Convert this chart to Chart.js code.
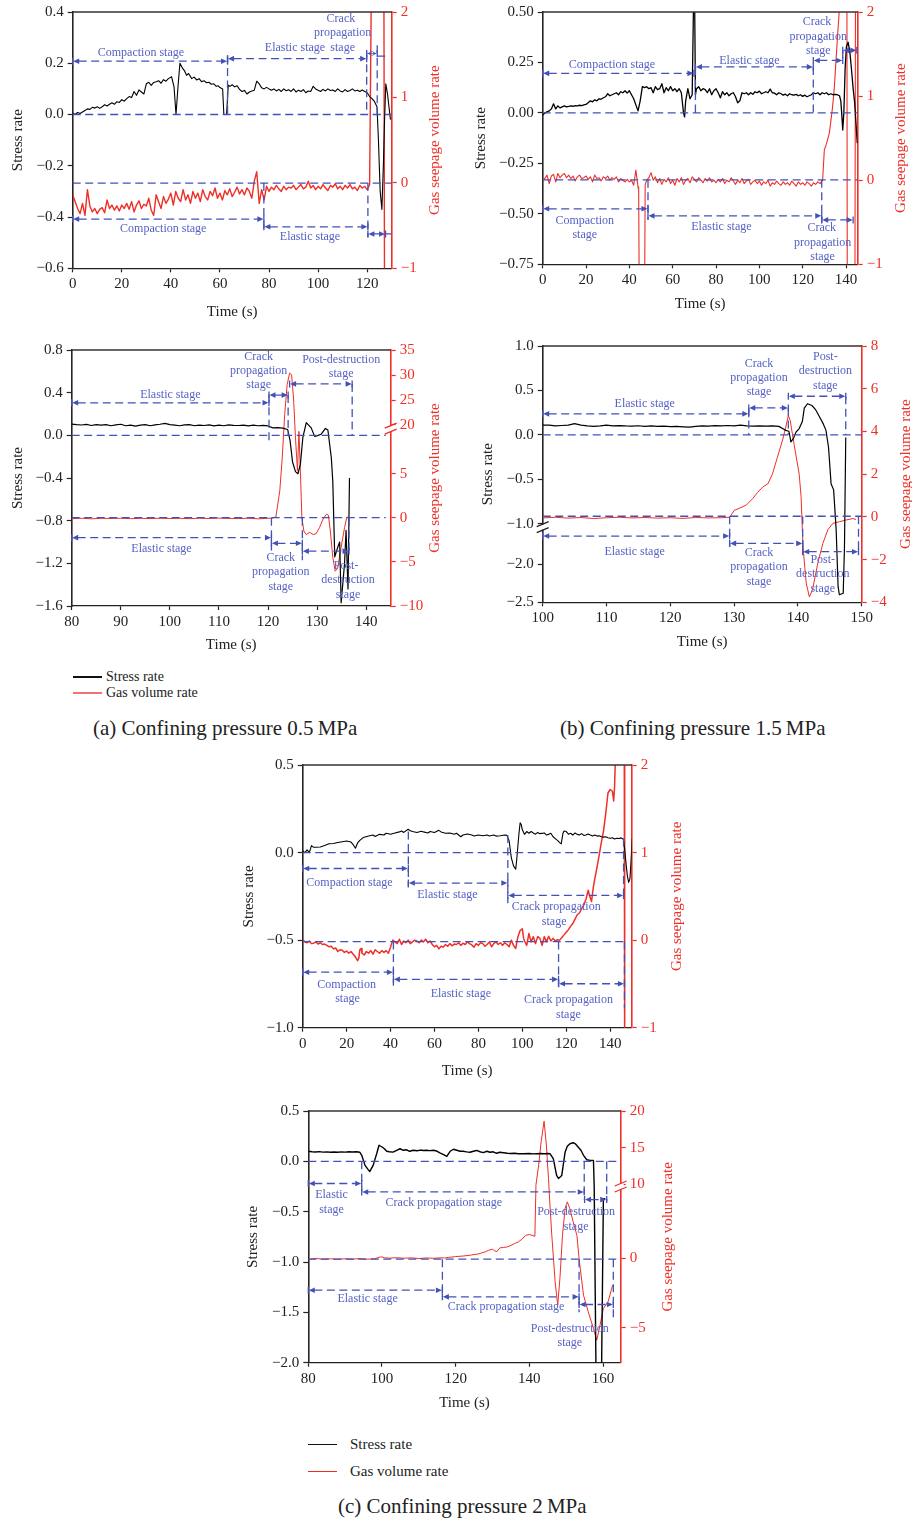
<!DOCTYPE html>
<html>
  <head>
    <meta charset="utf-8" />
    <title>Stress rate and gas seepage volume rate</title>
    <style>
      body {
        margin: 0;
        width: 912px;
        height: 1518px;
        background: #fff;
        position: relative;
        overflow: hidden;
        font-family: "Liberation Serif", "DejaVu Serif", serif;
        color: #222;
      }
      canvas { position: absolute; }
      .key { position: absolute; white-space: nowrap; }
      .key .row { display: flex; align-items: center; }
      .key .swatch { display: inline-block; width: 29px; }
      .caption { position: absolute; font-size: 21px; line-height: 24px; white-space: nowrap; }
    </style>
    <script src="https://cdn.jsdelivr.net/npm/chart.js"></script>
  </head>
  <body>
    <canvas id="a1"></canvas>
    <canvas id="b1"></canvas>
    <canvas id="a2"></canvas>
    <canvas id="b2"></canvas>
    <canvas id="c1"></canvas>
    <canvas id="c2"></canvas>

    <div class="key" style="left:73px; top:669px; font-size:14px; line-height:16px;">
      <div class="row"><span class="swatch" style="height:1.5px; background:#111; margin-right:4px;"></span>Stress rate</div>
      <div class="row"><span class="swatch" style="height:2px; background:#f07272; margin-right:4px;"></span>Gas volume rate</div>
    </div>
    <div class="caption" style="left:93px; top:716px;">(a) Confining pressure 0.5&#8201;MPa</div>
    <div class="caption" style="left:560px; top:716px;">(b) Confining pressure 1.5&#8201;MPa</div>

    <div class="key" style="left:308px; top:1431px; font-size:15px; line-height:27px;">
      <div class="row"><span class="swatch" style="height:1.6px; background:#111; margin-right:13px;"></span>Stress rate</div>
      <div class="row"><span class="swatch" style="height:1.6px; background:#ec2b25; margin-right:13px;"></span>Gas volume rate</div>
    </div>
    <div class="caption" style="left:338px; top:1494px;">(c) Confining pressure 2&#8201;MPa</div>

    <script>
      // ---- (a) 0.5 MPa, upper plot ----
      const a1Stress = [
        [0,0.005],[1,0.0],[2,0.008],[3,0.004],[4,0.01],[5,0.016],[6,0.022],[7,0.02],[8,0.028],[9,0.025],
        [10,0.03],[11,0.024],[12,0.03],[13,0.038],[14,0.033],[15,0.04],[16,0.046],[17,0.04],[18,0.05],[19,0.047],
        [20,0.058],[21,0.052],[22,0.062],[23,0.07],[24,0.066],[25,0.09],[26,0.075],[27,0.096],[28,0.088],[29,0.08],
        [30,0.12],[31,0.126],[32,0.114],[33,0.125],[34,0.128],[35,0.132],[36,0.122],[37,0.136],[38,0.13],[39,0.14],
        [40.3,0.147],[41.3,0.108],[42.1,0.0],[43,0.12],[43.7,0.2],[44.8,0.18],[45.6,0.17],[46.4,0.153],[47.2,0.16],[48.5,0.14],
        [49.5,0.146],[50.5,0.135],[51.5,0.14],[52.5,0.128],[53.5,0.132],[54.5,0.124],[55.5,0.126],[56.5,0.118],[57.5,0.12],[58.5,0.11],
        [59.3,0.112],[60,0.105],[61.1,0.1],[61.6,0.0],[62.7,0.0],[63.4,0.114],[64.1,0.11],[65,0.116],[66,0.108],[67,0.112],
        [68,0.098],[69,0.09],[70,0.094],[71,0.08],[72,0.088],[73,0.092],[74,0.095],[75,0.13],[76,0.12],[77,0.104],
        [78,0.1],[79,0.106],[80,0.1],[81,0.095],[82,0.1],[83,0.092],[84,0.098],[85,0.09],[86,0.1],[87,0.093],
        [88,0.097],[89,0.09],[90,0.1],[91,0.088],[92,0.095],[93,0.09],[94,0.097],[95,0.085],[96,0.092],[97,0.09],
        [98,0.11],[99,0.1],[100,0.095],[101,0.09],[102,0.098],[103,0.092],[104,0.1],[105,0.094],[106,0.096],[107,0.09],
        [108,0.1],[109,0.092],[110,0.088],[111,0.097],[112,0.09],[113,0.094],[114,0.1],[115,0.092],[116,0.095],[117,0.09],
        [118,0.096],[119,0.09],[120,0.085],[121,0.07],[122,0.062],[123,0.05],[124,0.03],[124.6,-0.1],[125.3,-0.3],[126,-0.37],
        [126.6,-0.2],[127,-0.05],[127.6,0.12],[128.3,0.08],[129,0.02],[129.5,-0.02]
      ];
      const a1Gas = [
        [0,-0.14],[1,-0.22],[2,-0.3],[3,-0.36],[4,-0.24],[5,-0.38],[6,-0.08],[7,-0.27],[8,-0.34],[9,-0.3],
        [10,-0.36],[11,-0.31],[12,-0.29],[13,-0.35],[14,-0.2],[15,-0.3],[16,-0.26],[17,-0.32],[18,-0.27],[19,-0.33],
        [20,-0.26],[21,-0.3],[22,-0.24],[23,-0.31],[24,-0.22],[25,-0.34],[26,-0.26],[27,-0.21],[28,-0.3],[29,-0.25],
        [30,-0.27],[31,-0.18],[32,-0.32],[33,-0.38],[34,-0.14],[35,-0.22],[36,-0.3],[37,-0.16],[38,-0.24],[39,-0.19],
        [40,-0.12],[41,-0.26],[42,-0.1],[43,-0.18],[44,-0.22],[45,-0.08],[46,-0.2],[47,-0.14],[48,-0.24],[49,-0.1],
        [50,-0.18],[51,-0.12],[52,-0.22],[53,-0.08],[54,-0.16],[55,-0.2],[56,-0.1],[57,-0.15],[58,-0.06],[59,-0.18],
        [60,-0.12],[61,-0.2],[62,-0.09],[63,-0.14],[64,-0.07],[65,-0.16],[66,-0.11],[67,-0.05],[68,-0.13],[69,-0.08],
        [70,-0.14],[71,-0.06],[72,-0.1],[73,-0.18],[74,0.02],[75,0.13],[76,-0.24],[77,-0.08],[78,-0.2],[79,-0.04],
        [80,-0.1],[81,-0.05],[82,-0.08],[83,-0.03],[84,-0.07],[85,-0.1],[86,-0.04],[87,-0.08],[88,-0.05],[89,-0.06],
        [90,-0.03],[91,-0.08],[92,-0.05],[93,-0.02],[94,-0.07],[95,-0.05],[96,0.02],[97,-0.06],[98,-0.03],[99,-0.08],
        [100,-0.04],[101,-0.07],[102,-0.02],[103,-0.06],[104,-0.09],[105,-0.03],[106,-0.05],[107,-0.01],[108,-0.07],[109,-0.04],
        [110,-0.08],[111,-0.03],[112,-0.06],[113,-0.02],[114,-0.07],[115,-0.05],[116,-0.09],[117,-0.03],[118,-0.06],[119,-0.04],
        [120,-0.08],[121,-0.02],[121.8,2.6],[126.8,2.6],[127.1,-1.6],[130,-1.6]
      ];
      const a1XTicks = [0, 20, 40, 60, 80, 100, 120];
      const a1YTicks = [-0.6, -0.4, -0.2, 0, 0.2, 0.4];
      const a1YLabels = ['\u22120.6', '\u22120.4', '\u22120.2', '0.0', '0.2', '0.4'];
      const a1Guides = [[0, 0, 130], [-0.2675, 0, 130], [0.228, 124.1, 127.5], [-0.466, 127.5, 130]];
      const a1Bounds = [[63.1, 0.23, 0], [119.8, 0.245, 0], [124.1, 0.27, 0], [77.9, -0.2675, -0.45], [120.3, -0.2675, -0.479]];
      const a1Arrows = [[0, 63.1, 0.208], [63.1, 119.8, 0.218], [119.8, 124.1, 0.238], [0, 77.9, -0.408], [77.9, 120.3, -0.438], [120.3, 127.5, -0.466]];
      const a1Labels = [[27.8, 0.242, 'Compaction stage'], [90.6, 0.261, 'Elastic stage'], [109.3, 0.374, 'Crack'], [110, 0.318, 'propagation'], [110, 0.262, 'stage'],
                        [36.9, -0.445, 'Compaction stage'], [96.7, -0.479, 'Elastic stage']];

      // ---- (b) 1.5 MPa, upper plot ----
      const b1Stress = [
        [0,-0.01],[1,0.0],[2,0.005],[3,0.01],[4,0.02],[5,0.045],[6,0.02],[7,0.035],[8,0.025],[9,0.03],
        [10,0.035],[11,0.03],[12,0.032],[13,0.035],[14,0.033],[15,0.036],[16,0.035],[17,0.038],[18,0.036],[19,0.04],
        [20,0.042],[21,0.05],[22,0.06],[23,0.055],[24,0.065],[25,0.06],[26,0.07],[27,0.068],[28,0.075],[29,0.08],
        [30,0.095],[31,0.085],[32,0.09],[33,0.095],[34,0.1],[35,0.09],[36,0.105],[37,0.1],[38,0.11],[39,0.098],
        [40,0.11],[41,0.09],[42,0.07],[43,0.04],[44,0.01],[45,0.06],[46,0.13],[47,0.125],[48,0.13],[49,0.12],
        [50,0.125],[51,0.1],[52,0.13],[53,0.115],[54,0.12],[55,0.145],[56,0.1],[57,0.125],[58,0.11],[59,0.13],
        [60,0.11],[61,0.12],[62,0.105],[63,0.12],[64,0.1],[65,0.0],[65.5,-0.02],[66,0.06],[67,0.12],[68,0.07],
        [69,0.09],[69.7,0.6],[70.1,0.6],[70.5,0.09],[71,0.12],[72,0.13],[73,0.11],[74,0.12],[75,0.115],[76,0.1],
        [77,0.12],[78,0.09],[79,0.11],[80,0.12],[81,0.1],[82,0.075],[83,0.105],[84,0.09],[85,0.1],[86,0.085],
        [87,0.095],[88,0.1],[89,0.08],[90,0.05],[91,0.06],[92,0.1],[93,0.095],[94,0.1],[95,0.09],[96,0.1],
        [97,0.092],[98,0.105],[99,0.1],[100,0.108],[101,0.095],[102,0.1],[103,0.105],[104,0.1],[105,0.118],[106,0.1],
        [107,0.098],[108,0.09],[109,0.1],[110,0.095],[111,0.088],[112,0.093],[113,0.085],[114,0.095],[115,0.09],[116,0.088],
        [117,0.092],[118,0.085],[119,0.09],[120,0.082],[121,0.088],[122,0.08],[123,0.085],[124,0.09],[125,0.1],[126,0.095],
        [127,0.1],[128,0.09],[129,0.1],[130,0.095],[131,0.1],[132,0.09],[133,0.095],[134,0.09],[135,0.092],[136,0.09],
        [137,0.085],[137.6,0.06],[138,0.0],[138.5,-0.085],[139,0.0],[139.6,0.22],[140.2,0.33],[141,0.35],[141.8,0.3],[142.5,0.22],
        [143.3,0.12],[144,0.05],[144.6,-0.05],[145.2,-0.15]
      ];
      const b1Gas = [
        [0,0.0],[1,0.02],[2,0.06],[3,-0.04],[4,0.05],[5,0.07],[6,-0.02],[7,0.08],[8,0.03],[9,0.06],
        [10,0.08],[11,0.03],[12,0.06],[13,0.02],[14,0.05],[15,-0.01],[16,0.04],[17,0.06],[18,0.02],[19,0.03],
        [20,0.05],[21,0.01],[22,0.04],[23,-0.02],[24,0.06],[25,0.02],[26,0.03],[27,-0.01],[28,0.04],[29,0.02],
        [30,0.05],[31,0.0],[32,0.03],[33,0.01],[34,0.04],[35,-0.02],[36,0.02],[37,0.0],[38,-0.02],[39,0.01],
        [40,-0.02],[41,0.0],[42,-0.06],[43,0.12],[44,-0.08],[44.3,-0.12],[44.6,-1.6],[47.0,-1.6],[47.3,-0.05],[48,0.0],
        [49,0.03],[50,0.09],[51,0.0],[52,0.04],[53,-0.03],[54,0.02],[55,-0.05],[56,0.01],[57,-0.02],[58,0.03],
        [59,-0.04],[60,0.0],[61,-0.06],[62,0.02],[63,-0.02],[64,0.03],[65,-0.05],[66,0.0],[67,0.02],[68,-0.03],
        [69,0.04],[70,0.01],[71,-0.02],[72,0.03],[73,0.0],[74,-0.03],[75,0.02],[76,-0.01],[77,0.03],[78,-0.02],
        [79,0.0],[80,-0.03],[81,0.01],[82,-0.02],[83,0.02],[84,-0.04],[85,0.0],[86,-0.02],[87,0.03],[88,-0.01],
        [89,-0.05],[90,0.0],[91,-0.03],[92,0.02],[93,-0.04],[94,-0.01],[95,0.01],[96,-0.05],[97,-0.02],[98,0.0],
        [99,-0.04],[100,-0.01],[101,-0.06],[102,-0.02],[103,-0.04],[104,0.0],[105,-0.07],[106,-0.03],[107,-0.05],[108,-0.01],
        [109,-0.04],[110,-0.06],[111,-0.02],[112,-0.05],[113,-0.03],[114,-0.06],[115,-0.01],[116,-0.04],[117,-0.07],[118,-0.02],
        [119,-0.05],[120,-0.03],[121,-0.06],[122,-0.02],[123,-0.04],[124,-0.07],[125,-0.03],[126,-0.05],[127,-0.02],[128,-0.04],
        [129.2,0.0],[130,0.36],[130.8,0.42],[131.5,0.48],[132.3,0.56],[133,0.7],[133.8,0.87],[134.6,1.1],[135.4,1.43],[136.2,1.75],
        [136.9,2.02],[137.3,2.6],[140.4,2.6],[140.6,-1.6],[144.1,-1.6],[144.4,2.6]
      ];
      const b1XTicks = [0, 20, 40, 60, 80, 100, 120, 140];
      const b1YTicks = [-0.75, -0.5, -0.25, 0, 0.25, 0.5];
      const b1YLabels = ['\u22120.75', '\u22120.50', '\u22120.25', '0.00', '0.25', '0.50'];
      const b1Guides = [[0, 0, 145.4], [-0.3317, 0, 145.4]];
      const b1Bounds = [[70.5, 0.228, 0], [124.9, 0.228, 0], [138.5, 0.31, 0.26], [48.6, -0.3317, -0.53], [128.8, -0.3317, -0.545]];
      const b1Arrows = [[0, 69.8, 0.196], [70.5, 124.9, 0.228], [124.9, 138.5, 0.26], [138.5, 145, 0.31],
                        [0, 48.6, -0.475], [48.6, 128.8, -0.51], [128.8, 143.3, -0.53]];
      const b1Labels = [[32, 0.236, 'Compaction stage'], [95.4, 0.26, 'Elastic stage'], [126.6, 0.449, 'Crack'], [127.2, 0.378, 'propagation'], [127.2, 0.309, 'stage'],
                        [19.4, -0.533, 'Compaction'], [19.4, -0.606, 'stage'], [82.5, -0.566, 'Elastic stage'],
                        [128.8, -0.571, 'Crack'], [129.2, -0.642, 'propagation'], [129.2, -0.711, 'stage']];

      // ---- (a) 0.5 MPa, lower plot ----
      const a2Stress = [
        [80,0.105],[81,0.1],[82,0.097],[83,0.103],[84,0.092],[85,0.1],[86,0.095],[87,0.1],[88,0.09],[89,0.098],
        [90,0.104],[91,0.09],[92,0.096],[93,0.087],[94,0.095],[95,0.1],[96,0.09],[97,0.098],[98,0.104],[99,0.112],
        [100,0.1],[101,0.095],[102,0.09],[103,0.098],[104,0.1],[105,0.09],[106,0.096],[107,0.092],[108,0.098],[109,0.088],
        [110,0.095],[111,0.09],[112,0.098],[113,0.094],[114,0.092],[115,0.096],[116,0.088],[117,0.095],[118,0.09],[119,0.094],
        [120,0.088],[121,0.07],[122,0.072],[123,0.068],[124,0.055],[124.5,-0.05],[125,-0.25],[125.6,-0.34],[126.1,-0.36],[126.6,-0.27],
        [127.1,-0.02],[127.8,0.12],[128.8,0.07],[129.5,-0.01],[130.2,0.0],[130.8,0.01],[131.7,0.065],[132.2,0.05],[132.9,-0.21],[133.2,-0.43],
        [133.6,-1.14],[134.2,-1.05],[134.6,-1.0],[134.9,-1.57],[135.6,-1.2],[135.9,-0.89],[136.3,-1.44],[136.6,-0.4]
      ];
      const a2Gas = [
        [80,-0.1],[82,-0.05],[84,-0.12],[86,-0.06],[88,-0.08],[90,-0.05],[92,-0.1],[94,-0.06],[96,-0.09],[98,-0.05],
        [100,-0.08],[102,-0.06],[104,-0.1],[106,-0.05],[108,-0.08],[110,-0.04],[112,-0.07],[114,-0.09],[116,-0.05],[118,-0.12],
        [120,-0.06],[121,-0.02],[121.6,0.1],[122.4,3.05],[122.9,9.9],[123.4,22.1],[123.9,28.1],[124.4,30.4],[124.8,30.1],[125.2,25.4],
        [125.6,16.0],[126,5.8],[126.3,18.0],[126.6,5.8],[126.9,0.0],[127.3,-1.5],[127.8,-1.9],[128.5,-1.65],[129.2,-1.9],[129.8,-1.8],
        [130.5,-1.1],[131.2,-0.15],[131.9,0.4],[132.3,0.3],[132.7,-1.5],[133.2,-4.5],[133.7,-6.05],[134.2,-5.7],[134.9,-3.35],[135.6,-1.1],
        [136.1,0.15]
      ];
      const a2XTicks = [80, 90, 100, 110, 120, 130, 140];
      const a2YTicks = [-1.6, -1.2, -0.8, -0.4, 0, 0.4, 0.8];
      const a2YLabels = ['\u22121.6', '\u22121.2', '\u22120.8', '\u22120.4', '0.0', '0.4', '0.8'];
      const a2GasTicks = [-10, -5, 0, 5, 10.53, 13.35, 16.18, 19.02];
      const a2GasLabels = ['\u221210', '\u22125', '0', '5', '20', '25', '30', '35'];
      const a2Guides = [[0, 80, 144], [-0.772, 80, 144]];
      const a2Bounds = [[120.2, 0.38, -0.05], [124.1, 0.377, 0], [137.15, 0.482, 0], [120.7, -0.772, -1.08], [127, -0.772, -1.17], [136.5, -0.772, -1.096]];
      const a2Arrows = [[80, 120.2, 0.305], [120.2, 124.1, 0.377], [124.4, 137.15, 0.482], [80, 120.7, -0.959], [120.7, 127, -1.012], [127, 136.5, -1.086]];
      const a2Labels = [[100.1, 0.383, 'Elastic stage'], [118.1, 0.738, 'Crack'], [118.1, 0.604, 'propagation'], [118.1, 0.47, 'stage'],
                        [134.9, 0.71, 'Post-destruction'], [134.9, 0.576, 'stage'], [98.3, -1.065, 'Elastic stage'],
                        [122.6, -1.149, 'Crack'], [122.6, -1.283, 'propagation'], [122.6, -1.423, 'stage'],
                        [135.9, -1.22, 'Post-'], [136.3, -1.355, 'destruction'], [136.3, -1.5, 'stage']];

      // ---- (b) 1.5 MPa, lower plot ----
      const b2Stress = [
        [100,0.11],[101,0.108],[102,0.1],[103,0.105],[104,0.11],[105,0.125],[106,0.11],[107,0.1],[108,0.095],[109,0.1],
        [110,0.108],[111,0.1],[112,0.104],[113,0.1],[114,0.098],[115,0.102],[116,0.096],[117,0.1],[118,0.094],[119,0.098],
        [120,0.092],[121,0.095],[122,0.09],[123,0.086],[124,0.095],[125,0.1],[126,0.098],[127,0.104],[128,0.1],[129,0.105],
        [130,0.1],[131,0.108],[132,0.1],[133,0.098],[134,0.1],[135,0.097],[136,0.1],[137,0.095],[137.6,0.07],[138.1,0.05],
        [138.6,0.04],[138.9,-0.08],[139.3,-0.04],[139.7,0.03],[140.2,0.07],[140.7,0.15],[141,0.3],[141.5,0.35],[142.2,0.33],[142.8,0.28],
        [143.4,0.2],[144,0.12],[144.4,0.05],[144.8,-0.14],[145.2,-0.55],[145.6,-0.62],[146,-1.16],[146.3,-2.29],[146.5,-2.4],[147.1,-2.38],
        [147.3,-1.57],[147.5,-0.03]
      ];
      const b2Gas = [
        [100,-0.05],[102,-0.02],[104,-0.06],[106,-0.03],[108,-0.08],[110,-0.04],[112,-0.02],[114,-0.05],[116,-0.03],[118,-0.06],
        [120,-0.04],[122,-0.07],[124,-0.03],[126,-0.05],[128,-0.04],[129.3,-0.02],[130,0.3],[130.8,0.4],[131.9,0.55],[132.9,0.85],
        [133.7,1.15],[134.5,1.4],[135.3,1.55],[136,2.0],[136.8,2.8],[137.6,3.6],[138.1,4.2],[138.5,4.75],[138.8,4.5],[139.4,3.4],
        [140.2,2.0],[140.5,0.95],[140.8,-1.4],[141.3,-3.1],[141.8,-3.75],[142.3,-3.4],[143.1,-2.2],[143.9,-1.25],[144.7,-0.6],[145.5,-0.3],
        [146.5,-0.23],[147.5,-0.15],[148.6,-0.08],[149.1,-0.12]
      ];
      const b2XTicks = [100, 110, 120, 130, 140, 150];
      const b2YTicks = [-1.886, -1.46, -1, -0.5, 0, 0.5, 1];
      const b2YLabels = ['\u22122.5', '\u22122.0', '\u22121.0', '\u22120.5', '0.0', '0.5', '1.0'];
      const b2GasTicks = [-4, -2, 0, 2, 4, 6, 8];
      const b2GasLabels = ['\u22124', '\u22122', '0', '2', '4', '6', '8'];
      const b2Guides = [[0, 100, 150], [-0.917, 100, 150]];
      const b2Bounds = [[132.3, 0.303, 0], [138.5, 0.303, 0], [147.5, 0.434, 0], [129.3, -0.917, -1.26], [140.75, -0.917, -1.35], [149.5, -0.917, -1.316]];
      const b2Arrows = [[100, 132.3, 0.236], [132.3, 138.5, 0.303], [138.5, 147.5, 0.434], [100, 129.3, -1.14], [129.3, 140.75, -1.223], [140.75, 149.5, -1.316]];
      const b2Labels = [[116, 0.348, 'Elastic stage'], [133.9, 0.797, 'Crack'], [133.9, 0.639, 'propagation'], [133.9, 0.479, 'stage'],
                        [144.3, 0.879, 'Post-'], [144.3, 0.718, 'destruction'], [144.3, 0.553, 'stage'],
                        [114.4, -1.316, 'Elastic stage'], [133.9, -1.328, 'Crack'], [133.9, -1.492, 'propagation'], [133.9, -1.66, 'stage'],
                        [143.9, -1.41, 'Post-'], [143.9, -1.57, 'destruction'], [143.9, -1.74, 'stage']];

      // ---- (c) 2 MPa, upper plot ----
      const c1Stress = [
        [0,0.01],[1,0.0],[2,0.015],[3,0.0],[4,0.04],[5,0.03],[6,0.03],[8,0.032],[10,0.04],[12,0.05],
        [14,0.052],[16,0.057],[18,0.062],[20,0.066],[22,0.06],[23,0.045],[24,0.025],[25,0.055],[26,0.07],[27,0.08],
        [28,0.088],[30,0.095],[32,0.1],[33,0.092],[35,0.104],[37,0.1],[38,0.11],[40,0.105],[42,0.112],[44,0.118],
        [45,0.123],[46,0.115],[48,0.133],[49,0.125],[50,0.12],[52,0.115],[54,0.122],[55,0.118],[57,0.112],[58,0.12],
        [60,0.115],[62,0.127],[63,0.118],[65,0.11],[67,0.112],[69,0.105],[70,0.11],[72,0.09],[73,0.1],[75,0.106],
        [77,0.1],[78,0.095],[80,0.1],[82,0.096],[84,0.1],[85,0.095],[87,0.1],[88,0.094],[90,0.096],[92,0.1],
        [93,0.098],[94,0.066],[95,-0.03],[96,-0.076],[97,-0.095],[97.6,-0.02],[98.4,0.1],[99,0.17],[99.5,0.16],[100,0.13],
        [101,0.104],[102,0.12],[103,0.11],[104,0.12],[105,0.112],[106,0.105],[107,0.115],[108,0.108],[110,0.112],[111,0.1],
        [112,0.104],[113,0.11],[114,0.09],[115,0.08],[116,0.07],[117,0.057],[117.7,0.05],[118.5,0.11],[119,0.123],[120,0.12],
        [121,0.105],[122,0.11],[123,0.1],[124,0.112],[125,0.104],[126,0.1],[127,0.108],[128,0.098],[129,0.1],[130,0.106],
        [131,0.1],[132,0.095],[133,0.1],[134,0.094],[135,0.096],[136,0.09],[137,0.088],[138,0.09],[139,0.085],[140,0.082],
        [141,0.085],[142,0.078],[143,0.082],[144,0.08],[145,0.084],[146,0.076],[146.6,0.02],[147.2,-0.06],[147.8,-0.13],[148.4,-0.17],
        [149,-0.15],[149.5,-0.05],[150,0.08]
      ];
      const c1Gas = [
        [0,0.0],[1,-0.02],[2,-0.03],[3,-0.01],[4,-0.04],[5,-0.035],[6,-0.02],[7,-0.045],[8,-0.03],[9,-0.05],
        [10,-0.045],[11,-0.06],[12,-0.076],[13,-0.07],[14,-0.1],[15,-0.09],[16,-0.13],[17,-0.11],[18,-0.115],[19,-0.14],
        [20,-0.125],[21,-0.15],[22,-0.13],[23,-0.16],[24,-0.19],[25,-0.235],[25.6,-0.2],[26,-0.11],[26.6,-0.095],[27,-0.15],
        [28,-0.17],[29,-0.13],[30,-0.15],[31,-0.12],[32,-0.16],[33,-0.11],[34,-0.13],[35,-0.15],[36,-0.12],[37,-0.14],
        [38,-0.12],[39,-0.15],[40,-0.08],[41,0.0],[42,-0.02],[43,-0.04],[44,0.01],[45,-0.05],[46,-0.01],[47,-0.03],
        [48,0.0],[49,-0.04],[50,-0.02],[51,0.0],[52,-0.01],[53,-0.03],[54,0.0],[55,-0.02],[56,0.01],[57,-0.03],
        [58,-0.01],[59,-0.05],[60,-0.076],[61,-0.06],[62,-0.1],[63,-0.07],[64,-0.08],[65,-0.05],[66,-0.07],[67,-0.04],
        [68,-0.065],[69,-0.045],[70,-0.05],[71,-0.03],[72,-0.06],[73,-0.035],[74,-0.05],[75,-0.02],[76,-0.04],[77,-0.055],
        [78,-0.08],[79,-0.04],[80,-0.06],[81,-0.03],[82,-0.04],[83,-0.07],[84,-0.05],[85,-0.02],[86,-0.075],[87,-0.04],
        [88,-0.02],[89,-0.05],[90,-0.03],[91,-0.06],[92,-0.03],[93,-0.05],[94,-0.076],[95,0.0],[96,-0.06],[97,-0.095],
        [98,0.04],[99,0.11],[100,0.13],[100.6,0.02],[101,-0.01],[102,-0.06],[103,0.076],[104,-0.02],[105,0.04],[106,-0.04],
        [107,0.04],[108,0.02],[109,-0.06],[110,0.04],[111,-0.02],[112,0.045],[113,-0.01],[114,0.02],[115,-0.01],[116,0.005],
        [117,0.0],[118,0.03],[119,0.06],[120,0.09],[121,0.12],[122,0.16],[123,0.19],[124,0.24],[125,0.29],[126,0.31],
        [127,0.36],[128,0.4],[129,0.47],[130,0.57],[130.7,0.5],[131.5,0.44],[132.3,0.6],[133,0.7],[134,0.83],[135,0.97],
        [136,1.12],[137,1.25],[138,1.45],[139,1.68],[140,1.72],[141,1.7],[141.6,1.59],[142,1.75],[142.4,2.1],[142.8,2.6],
        [146.4,2.6],[146.6,-1.5],[150,-1.5]
      ];
      const c1XTicks = [0, 20, 40, 60, 80, 100, 120, 140];
      const c1YTicks = [-1, -0.5, 0, 0.5];
      const c1YLabels = ['\u22121.0', '\u22120.5', '0.0', '0.5'];
      const c1Guides = [[0, 0, 147.6], [-0.508, 0, 147.6]];
      const c1Bounds = [[48.1, 0.12, -0.2], [93.4, 0.1, -0.29], [146.1, 0.08, -0.26], [41.3, -0.508, -0.76], [116.5, -0.508, -0.79], [146.5, -0.508, -0.89]];
      const c1Arrows = [[0, 48.1, -0.091], [48.1, 93.4, -0.174], [93.4, 146.1, -0.245], [0, 41.3, -0.683], [41.3, 116.5, -0.724], [116.5, 146.5, -0.749]];
      const c1Labels = [[21.3, -0.174, 'Compaction stage'], [65.9, -0.241, 'Elastic stage'], [115.4, -0.309, 'Crack propagation'], [114.5, -0.394, 'stage'],
                        [20.0, -0.755, 'Compaction'], [20.4, -0.834, 'stage'], [72, -0.806, 'Elastic stage'],
                        [121, -0.84, 'Crack propagation'], [121, -0.925, 'stage']];

      // ---- (c) 2 MPa, lower plot ----
      const c2Stress = [
        [80,0.1],[81,0.095],[82,0.093],[83,0.096],[84,0.092],[85,0.094],[86,0.09],[87,0.093],[88,0.091],[89,0.094],
        [90,0.092],[91,0.095],[92,0.093],[93,0.095],[94,0.09],[94.5,0.06],[95.4,-0.04],[96.2,-0.08],[96.7,-0.1],[97.6,-0.04],
        [98.6,0.08],[99.2,0.16],[99.9,0.145],[100.5,0.13],[101.3,0.1],[102,0.095],[103,0.092],[104,0.11],[104.9,0.125],[105.8,0.11],
        [106.7,0.115],[107.5,0.1],[108.5,0.11],[109.5,0.105],[110.5,0.112],[111.2,0.108],[112,0.11],[113,0.106],[114,0.11],[115,0.1],
        [115.7,0.085],[116.6,0.07],[117.6,0.05],[118.5,0.1],[119.4,0.12],[120.3,0.11],[121.2,0.1],[122,0.1],[123,0.094],[123.9,0.09],
        [124.8,0.1],[125.7,0.108],[126.6,0.095],[127.5,0.086],[128.5,0.1],[129.3,0.09],[130.2,0.095],[131.1,0.08],[132,0.09],[133,0.085],
        [134,0.08],[134.8,0.078],[136,0.08],[137,0.076],[138.4,0.076],[140,0.078],[141,0.074],[142,0.076],[143,0.078],[144,0.075],
        [145,0.078],[145.6,0.076],[146.5,0.026],[147.4,-0.14],[147.9,-0.17],[148.8,-0.14],[149.7,0.09],[150.3,0.15],[151,0.175],[151.9,0.185],
        [152.6,0.17],[153.3,0.14],[154,0.11],[154.7,0.06],[155.6,0.016],[156.5,0.01],[157.4,0.01],[157.6,-0.24],[158.1,-2.1],[159.6,-2.1],
        [160.1,-0.37],[160.6,-0.37]
      ];
      const c2Gas = [
        [80,-0.05],[82,0.0],[84,-0.04],[86,-0.02],[88,-0.05],[90,-0.02],[92,-0.04],[94,-0.01],[96,-0.05],[98,-0.02],
        [99.3,0.1],[100,0.12],[100.7,0.05],[102,0.03],[104,0.06],[106,0.02],[108,0.05],[110,0.0],[112,0.04],[114,0.02],
        [116,0.05],[117,0.04],[118,0.08],[120,0.14],[122,0.18],[124,0.24],[125,0.29],[126,0.32],[127,0.4],[128,0.48],
        [129,0.6],[130,0.67],[130.6,0.55],[131.2,0.5],[132,0.77],[133,0.8],[134,0.84],[135,0.95],[136,1.08],[137,1.2],
        [138,1.39],[139,1.68],[140,1.73],[141,1.66],[141.5,1.6],[141.8,9.5],[142.5,12.5],[143.2,15.8],[144,18.6],[144.6,15.5],
        [145.2,10.8],[145.6,3.85],[146.1,1.68],[147,-1.68],[147.7,-3.37],[148.3,-1.44],[149,1.68],[149.7,3.6],[150.3,4.09],[151,3.6],
        [151.9,2.64],[152.9,1.68],[153.6,-0.24],[154.7,-2.64],[156,-3.85],[157.4,-5.05],[158.3,-5.9],[159.2,-4.8],[160.1,-3.6],[161.4,-3.1],
        [162.6,-1.92]
      ];
      const c2XTicks = [80, 100, 120, 140, 160];
      const c2YTicks = [-2, -1.5, -1, -0.5, 0, 0.5];
      const c2YLabels = ['\u22122.0', '\u22121.5', '\u22121.0', '\u22120.5', '0.0', '0.5'];
      const c2GasTicks = [-5, 0, 5.36, 8.0, 10.65];
      const c2GasLabels = ['\u22125', '0', '10', '15', '20'];
      const c2Guides = [[0, 80, 163.7], [-0.972, 80, 163.7]];
      const c2Bounds = [[94.5, 0, -0.3], [154.9, 0, -0.38], [161, 0, -0.4], [116.4, -0.972, -1.35], [153.5, -0.972, -1.5], [162.8, -0.972, -1.55]];
      const c2Arrows = [[80, 94.5, -0.22], [94.5, 154.9, -0.304], [155, 161, -0.38], [80, 116.4, -1.28], [116.4, 153.5, -1.346], [153.5, 162.8, -1.422]];
      const c2Labels = [[86.3, -0.337, 'Elastic'], [86.3, -0.48, 'stage'], [116.8, -0.41, 'Crack propagation stage'],
                        [152.7, -0.503, 'Post-destruction'], [152.7, -0.651, 'stage'], [96.1, -1.369, 'Elastic stage'],
                        [133.7, -1.45, 'Crack propagation stage'], [151, -1.66, 'Post-destruction'], [151, -1.8, 'stage']];

      const gasTicks3 = [-1, 0, 1, 2];
      const gasLabels3 = ['\u22121', '0', '1', '2'];

      // broken axes: real value -> position along the drawn axis
      function brokenGasA2(g) {
        if (g <= 5) return g;
        if (g <= 20) return 5 + (g - 5) * (5.53 / 15);
        return 10.53 + (g - 20) * 0.564;
      }
      function brokenStressB2(v) {
        if (v >= -1) return v;
        if (v >= -2) return -1 + (v + 1) * 0.46;
        return -1.46 + (v + 2) * 0.853;
      }
      function brokenGasC2(g) {
        if (g <= 5) return g;
        if (g <= 10) return 5 + (g - 5) * 0.072;
        return 5.36 + (g - 10) * 0.529;
      }

      const SERIF = '"Liberation Serif", "DejaVu Serif", serif';
      const BLUE = '#4351b6';
      const BLUE_TEXT = '#5662c4';
      const RED = '#ef2f27';
      const INK = '#222';
      Chart.defaults.font.family = SERIF;

      function pts(list, f) {
        return list.map(([t, v]) => ({ x: t, y: f ? f(v) : v }));
      }

      function xAxis(min, max, ticks, height) {
        return {
          type: 'linear', position: 'bottom', min, max, bounds: 'data',
          afterBuildTicks: s => { s.ticks = ticks.map(v => ({ value: v })); },
          afterFit: s => { s.height = height; },
          ticks: { autoSkip: false, maxRotation: 0, padding: 3, color: INK, font: { size: 15 }, callback: v => String(v) },
          grid: { drawOnChartArea: false, tickLength: 4, tickColor: INK, tickWidth: 1.2 },
          border: { display: true, color: INK, width: 1.3 }
        };
      }

      function yAxis(position, min, max, ticks, labels, width, color, lineColor) {
        return {
          type: 'linear', position, min, max, bounds: 'data',
          afterBuildTicks: s => { s.ticks = ticks.map(v => ({ value: v })); },
          afterFit: s => { s.width = width; },
          ticks: { autoSkip: false, padding: 4, color, font: { size: 15 }, callback: (v, i) => labels[i] },
          grid: { drawOnChartArea: false, tickLength: 5, tickColor: lineColor, tickWidth: 1.2 },
          border: { display: true, color: lineColor, width: 1.6 }
        };
      }

      function drawBreak(ctx, x, y, color) {
        ctx.save();
        ctx.fillStyle = '#fff';
        ctx.fillRect(x - 3, y - 2.5, 6, 5);
        ctx.strokeStyle = color;
        ctx.lineWidth = 1.3;
        ctx.beginPath();
        ctx.moveTo(x - 6, y - 0.5); ctx.lineTo(x + 6, y - 5.5);
        ctx.moveTo(x - 6, y + 5.5); ctx.lineTo(x + 6, y + 0.5);
        ctx.stroke();
        ctx.restore();
      }

      function overlay(p, cl, ct) {
        return {
          id: 'overlay',
          afterDraw(chart) {
            const ctx = chart.ctx, a = chart.chartArea;
            const xs = chart.scales.x, ys = chart.scales.y, ys2 = chart.scales.y2;
            const X = v => xs.getPixelForValue(v), Y = v => ys.getPixelForValue(v);
            ctx.save();
            // top frame
            ctx.strokeStyle = '#3a3030';
            ctx.lineWidth = 1.5;
            ctx.beginPath(); ctx.moveTo(a.left, a.top); ctx.lineTo(a.right, a.top); ctx.stroke();

            // stage guides
            ctx.strokeStyle = BLUE;
            ctx.lineWidth = 1.3;
            ctx.setLineDash([8, 4.5]);
            ctx.beginPath();
            p.guides.forEach(([y, x0, x1]) => { ctx.moveTo(X(x0), Y(y)); ctx.lineTo(X(x1), Y(y)); });
            p.bounds.forEach(([x, y0, y1]) => { ctx.moveTo(X(x), Y(y0)); ctx.lineTo(X(x), Y(y1)); });
            p.arrows.forEach(([x0, x1, y]) => { ctx.moveTo(X(x0) + 6, Y(y)); ctx.lineTo(X(x1) - 6, Y(y)); });
            ctx.stroke();
            ctx.setLineDash([]);
            ctx.fillStyle = BLUE;
            p.arrows.forEach(([x0, x1, y]) => {
              const l = X(x0), r = X(x1), yy = Y(y);
              ctx.beginPath();
              ctx.moveTo(l + 0.5, yy); ctx.lineTo(l + 6.5, yy - 2.8); ctx.lineTo(l + 6.5, yy + 2.8); ctx.closePath();
              ctx.moveTo(r - 0.5, yy); ctx.lineTo(r - 6.5, yy - 2.8); ctx.lineTo(r - 6.5, yy + 2.8); ctx.closePath();
              ctx.fill();
              ctx.beginPath();
              ctx.moveTo(l, yy - 3.5); ctx.lineTo(l, yy + 3.5);
              ctx.moveTo(r, yy - 3.5); ctx.lineTo(r, yy + 3.5);
              ctx.stroke();
            });

            // stage names
            ctx.font = '12px ' + SERIF;
            ctx.fillStyle = BLUE_TEXT;
            ctx.textAlign = 'center';
            ctx.textBaseline = 'middle';
            p.labels.forEach(([x, y, s]) => ctx.fillText(s, X(x), Y(y)));

            // axis breaks
            p.breaks.forEach(([axis, v]) => {
              if (axis === 'y') drawBreak(ctx, a.left, ys.getPixelForValue(v), '#222');
              else drawBreak(ctx, a.right, ys2.getPixelForValue(v), RED);
            });

            // axis titles
            ctx.font = '15px ' + SERIF;
            const midY = (a.top + a.bottom) / 2;
            ctx.fillStyle = INK;
            ctx.fillText('Time (s)', (a.left + a.right) / 2, p.timeY - ct);
            ctx.save();
            ctx.translate(p.titleL - cl, midY); ctx.rotate(-Math.PI / 2);
            ctx.fillText('Stress rate', 0, 0);
            ctx.restore();
            ctx.save();
            ctx.fillStyle = RED;
            ctx.translate(p.titleR - cl, midY); ctx.rotate(-Math.PI / 2);
            ctx.fillText('Gas seepage volume rate', 0, 0);
            ctx.restore();
            ctx.restore();
          }
        };
      }

      function buildPanel(p) {
        const cv = document.getElementById(p.id);
        const [L, T, R, B] = p.plot;
        const cl = Math.floor(p.titleL - 12), cr = Math.ceil(p.titleR + 12);
        const ct = Math.floor(T - 12), cb = Math.ceil(p.timeY + 12);
        cv.width = cr - cl;
        cv.height = cb - ct;
        cv.style.left = cl + 'px';
        cv.style.top = ct + 'px';
        cv.style.width = (cr - cl) + 'px';
        cv.style.height = (cb - ct) + 'px';
        new Chart(cv, {
          type: 'line',
          data: {
            datasets: [
              { data: pts(p.stress, p.stressMap), yAxisID: 'y', borderColor: '#000', borderWidth: p.stressWidth,
                pointRadius: 0, tension: 0, borderJoinStyle: 'round' },
              { data: pts(p.gas, p.gasMap), yAxisID: 'y2', borderColor: RED, borderWidth: p.gasWidth,
                pointRadius: 0, tension: 0, borderJoinStyle: 'round' }
            ]
          },
          options: {
            responsive: false,
            animation: false,
            devicePixelRatio: 1,
            layout: { padding: { top: T - ct, left: 0, right: 0, bottom: 0 } },
            plugins: { legend: { display: false }, tooltip: { enabled: false } },
            scales: {
              x: xAxis(p.x[0], p.x[1], p.x[2], cb - B),
              y: yAxis('left', p.y[0], p.y[1], p.y[2], p.y[3], L - cl, INK, '#2b2222'),
              y2: yAxis('right', p.y2[0], p.y2[1], p.y2[2], p.y2[3], cr - R, RED, RED)
            }
          },
          plugins: [overlay(p, cl, ct)]
        });
      }

      const panels = [
        { id: 'a1', plot: [72.7, 11.7, 391.7, 268.3], titleL: 18.3, titleR: 435, timeY: 311.7,
          x: [0, 130, a1XTicks], y: [-0.6, 0.4, a1YTicks, a1YLabels], y2: [-1, 2, gasTicks3, gasLabels3],
          stress: a1Stress, gas: a1Gas, stressWidth: 1.1, gasWidth: 1.4,
          guides: a1Guides, bounds: a1Bounds, arrows: a1Arrows, labels: a1Labels, breaks: [] },
        { id: 'b1', plot: [542.7, 11.7, 857.7, 264.3], titleL: 481, titleR: 901, timeY: 304,
          x: [0, 145.4, b1XTicks], y: [-0.75, 0.5, b1YTicks, b1YLabels], y2: [-1, 2, gasTicks3, gasLabels3],
          stress: b1Stress, gas: b1Gas, stressWidth: 1.3, gasWidth: 1.1,
          guides: b1Guides, bounds: b1Bounds, arrows: b1Arrows, labels: b1Labels, breaks: [] },
        { id: 'a2', plot: [71.7, 349, 390.7, 606], titleL: 18.3, titleR: 435, timeY: 645,
          x: [80, 145, a2XTicks], y: [-1.6, 0.8, a2YTicks, a2YLabels], y2: [-10, 19.02, a2GasTicks, a2GasLabels],
          stress: a2Stress, gas: a2Gas, gasMap: brokenGasA2, stressWidth: 1.2, gasWidth: 1.0,
          guides: a2Guides, bounds: a2Bounds, arrows: a2Arrows, labels: a2Labels, breaks: [['y2', 10.1]] },
        { id: 'b2', plot: [542.7, 345, 861.7, 602.3], titleL: 487.7, titleR: 906, timeY: 642.3,
          x: [100, 150, b2XTicks], y: [-1.886, 1.0, b2YTicks, b2YLabels], y2: [-4, 8, b2GasTicks, b2GasLabels],
          stress: b2Stress, gas: b2Gas, stressMap: brokenStressB2, stressWidth: 1.2, gasWidth: 1.0,
          guides: b2Guides, bounds: b2Bounds, arrows: b2Arrows, labels: b2Labels, breaks: [['y', -1.04]] },
        { id: 'c1', plot: [302.7, 764, 631.7, 1027.7], titleL: 249, titleR: 676.7, timeY: 1070.7,
          x: [0, 149.8, c1XTicks], y: [-1, 0.5, c1YTicks, c1YLabels], y2: [-1, 2, gasTicks3, gasLabels3],
          stress: c1Stress, gas: c1Gas, stressWidth: 1.1, gasWidth: 1.5,
          guides: c1Guides, bounds: c1Bounds, arrows: c1Arrows, labels: c1Labels, breaks: [] },
        { id: 'c2', plot: [308.3, 1110.7, 620.7, 1362.7], titleL: 252.7, titleR: 668.3, timeY: 1403.3,
          x: [80, 164.8, c2XTicks], y: [-2, 0.5, c2YTicks, c2YLabels], y2: [-7.52, 10.65, c2GasTicks, c2GasLabels],
          stress: c2Stress, gas: c2Gas, gasMap: brokenGasC2, stressWidth: 1.4, gasWidth: 1.0,
          guides: c2Guides, bounds: c2Bounds, arrows: c2Arrows, labels: c2Labels, breaks: [['y2', 5.2]] }
      ];

      panels.forEach(buildPanel);
    </script>
  </body>
</html>
